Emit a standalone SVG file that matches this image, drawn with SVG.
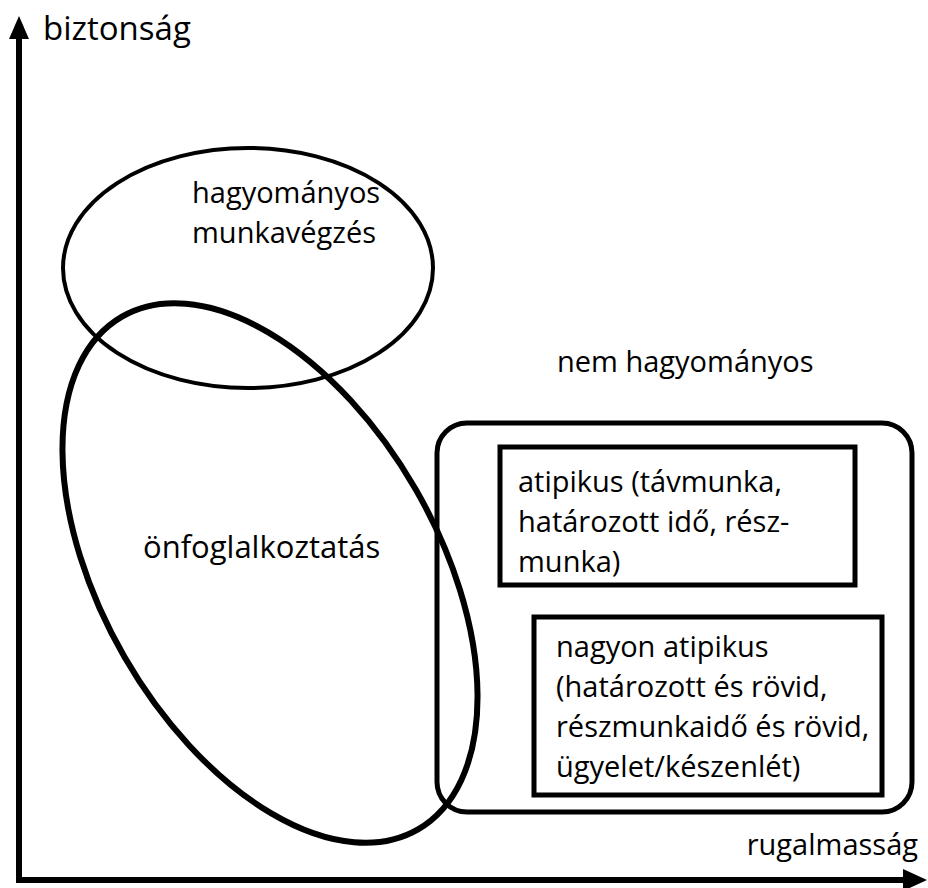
<svg xmlns="http://www.w3.org/2000/svg" width="928" height="888" viewBox="0 0 928 888">
<style>
text{font-family:"Open Sans","Liberation Sans",sans-serif;font-size:29px;fill:#000}
.sh{fill:none;stroke:#000}
</style>
<rect width="928" height="888" fill="#fff"/>
<g id="axes">
<polyline class="sh" points="19,36 19,880 906,880" stroke-width="6"/>
<polygon points="19,16 29,39 9,39" fill="#000"/>
<polygon points="927,880 903,869 903,891" fill="#000"/>
<text x="43" y="40" style="font-size:33px">biztonság</text>
<text x="918" y="855" text-anchor="end">rugalmasság</text>
</g>
<g id="hagyomanyos">
<ellipse class="sh" cx="248" cy="268" rx="185" ry="120" stroke-width="4"/>
<text x="192" y="203">hagyományos</text>
<text x="192" y="243">munkavégzés</text>
</g>
<g id="onfoglalkoztatas">
<ellipse class="sh" cx="270" cy="573" rx="168" ry="296" transform="rotate(-30 270 573)" stroke-width="6"/>
<text x="143" y="558" style="font-size:31px">önfoglalkoztatás</text>
</g>
<g id="nemhagyomanyos">
<rect class="sh" x="437" y="423" width="475" height="389" rx="30" stroke-width="5"/>
<text x="557" y="372">nem hagyományos</text>
</g>
<g id="atipikus">
<rect class="sh" x="500" y="447" width="355" height="138" stroke-width="5"/>
<text x="518" y="492">atipikus (távmunka,</text>
<text x="518" y="532">határozott idő, rész-</text>
<text x="518" y="572">munka)</text>
</g>
<g id="nagyonatipikus">
<rect class="sh" x="534" y="617" width="348" height="178" stroke-width="5"/>
<text x="556" y="657">nagyon atipikus</text>
<text x="556" y="697">(határozott és rövid,</text>
<text x="556" y="737">részmunkaidő és rövid,</text>
<text x="556" y="777">ügyelet/készenlét)</text>
</g>
</svg>
